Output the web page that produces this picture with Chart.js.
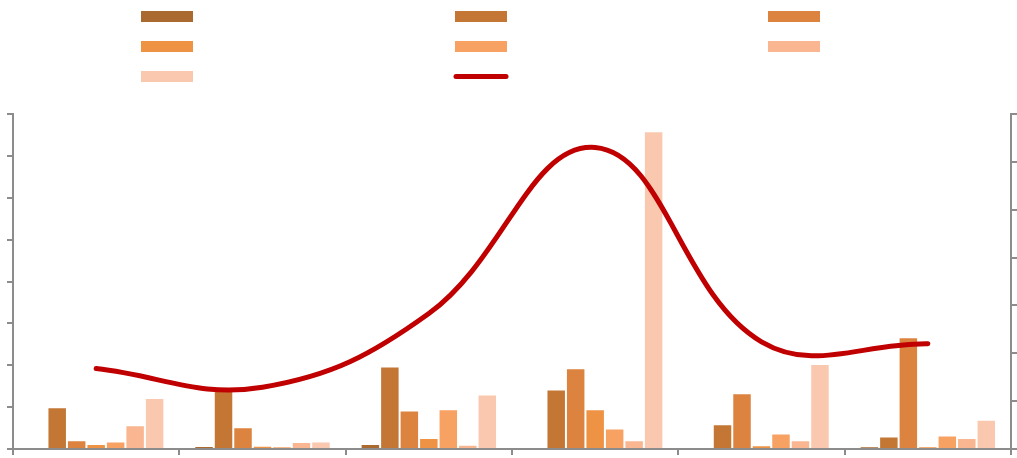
<!DOCTYPE html>
<html>
<head>
<meta charset="utf-8">
<script src="https://cdn.jsdelivr.net/npm/chart.js@4/dist/chart.umd.min.js"></script>
<style>
html,body{margin:0;padding:0;background:#fff;}
#wrap{position:relative;width:1017px;height:458px;}
</style>
</head>
<body>
<div id="wrap"><canvas id="c"></canvas></div>
<script>
// ---- data ----
const categories = ['1', '2', '3', '4', '5', '6'];
const seriesNames = ['S1', 'S2', 'S3', 'S4', 'S5', 'S6', 'S7'];
const s1 = [0, 0.07, 0.12, 0, 0, 0.06];
const s2 = [1.0, 1.40, 1.97, 1.42, 0.59, 0.30];
const s3 = [0.21, 0.52, 0.92, 1.93, 1.33, 2.67];
const s4 = [0.12, 0.08, 0.26, 0.95, 0.09, 0.06];
const s5 = [0.18, 0.055, 0.95, 0.49, 0.37, 0.32];
const s6 = [0.57, 0.17, 0.10, 0.21, 0.21, 0.26];
const s7 = [1.22, 0.18, 1.30, 7.59, 2.03, 0.70];
const lineName = 'Line';
const lineValues = [1.68, 1.29, 2.83, 6.30, 2.24, 2.20];
const barColors = ['#A9692F', '#C47635', '#DC833F', '#EE9244', '#F7A163', '#F9B690', '#FAC8AE'];
const lineColor = '#C00000';
const axisColor = '#8C8C8C';

const barSeries = [s1, s2, s3, s4, s5, s6, s7];

const datasets = barSeries.map((vals, i) => ({
  type: 'bar',
  label: seriesNames[i],
  data: vals,
  backgroundColor: barColors[i],
  borderColor: 'rgba(255,255,255,0.35)',
  borderWidth: 1,
  yAxisID: 'y',
  order: 1,
  categoryPercentage: 0.82,
  barPercentage: 1.0
}));
datasets.push({
  type: 'line',
  label: lineName,
  data: lineValues,
  borderColor: lineColor,
  backgroundColor: lineColor,
  borderWidth: 5,
  borderCapStyle: 'round',
  borderJoinStyle: 'round',
  tension: 0.4,
  pointRadius: 0,
  fill: false,
  yAxisID: 'y1',
  order: 0
});

// custom grid legend (swatches only, no text in reference)
const gridLegend = {
  id: 'gridLegend',
  afterDraw(chart) {
    const ctx = chart.ctx;
    const colX = [141, 455, 768];
    const rowY = [11, 41, 71];
    chart.data.datasets.forEach((ds, i) => {
      const col = i % 3, row = Math.floor(i / 3);
      const x = colX[col], y = rowY[row];
      ctx.save();
      if (ds.type === 'line') {
        ctx.strokeStyle = ds.borderColor;
        ctx.lineWidth = 5;
        ctx.lineCap = 'round';
        ctx.beginPath();
        ctx.moveTo(x + 1, y + 5.5);
        ctx.lineTo(x + 51, y + 5.5);
        ctx.stroke();
      } else {
        ctx.fillStyle = ds.backgroundColor;
        ctx.fillRect(x, y, 52, 11);
      }
      ctx.restore();
    });
  }
};

const gridOpts = {
  drawOnChartArea: false,
  drawTicks: true,
  tickLength: 6,
  color: axisColor,
  lineWidth: 2
};
const borderOpts = { color: axisColor, width: 2 };

new Chart(document.getElementById('c'), {
  data: { labels: categories, datasets },
  options: {
    responsive: true,
    maintainAspectRatio: false,
    animation: false,
    layout: { padding: { top: 114, left: 7, right: 0, bottom: 3 } },
    plugins: { legend: { display: false }, tooltip: { enabled: false } },
    scales: {
      x: {
        type: 'category',
        offset: true,
        grid: Object.assign({ offset: true }, gridOpts),
        border: borderOpts,
        ticks: { display: false }
      },
      y: {
        position: 'left',
        min: 0, max: 8,
        ticks: { display: false, stepSize: 1 },
        grid: gridOpts,
        border: borderOpts
      },
      y1: {
        position: 'right',
        min: 0, max: 7,
        ticks: { display: false, stepSize: 1 },
        grid: gridOpts,
        border: borderOpts
      }
    }
  },
  plugins: [gridLegend]
});
</script>
</body>
</html>
